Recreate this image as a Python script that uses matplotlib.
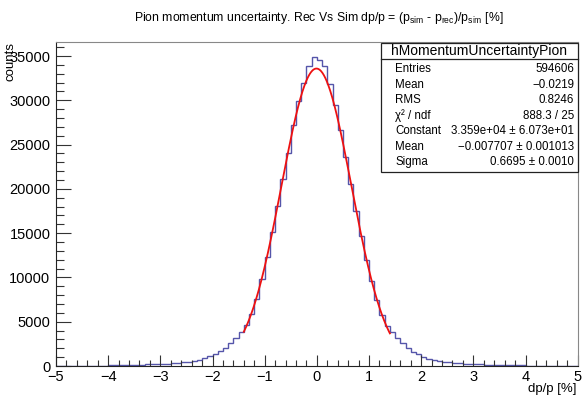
import numpy as np
import matplotlib
matplotlib.use("Agg")
import matplotlib.pyplot as plt
from matplotlib.ticker import MultipleLocator
from matplotlib.patches import Rectangle

plt.rcParams['font.family'] = ['Liberation Sans', 'DejaVu Sans']
plt.rcParams['mathtext.fontset'] = 'custom'
plt.rcParams['mathtext.rm'] = 'Liberation Sans'
plt.rcParams['mathtext.it'] = 'Liberation Sans:italic'

# histogram: 100 bins of 0.1 from -5 to 5
bin_edges = np.linspace(-5, 5, 101)
counts = [
    0, 0, 0, 0, 0, 0, 0, 25, 40, 55,                                     # -5.0 .. -4.0
    65, 75, 90, 100, 115, 130, 150, 170, 190, 220,                       # -4.0 .. -3.0
    250, 280, 320, 370, 430, 500, 600, 720, 870, 1080,                   # -3.0 .. -2.0
    1350, 1650, 2050, 2550, 3150, 3800, 4600, 5900, 7600, 9800,          # -2.0 .. -1.0
    12300, 15100, 18100, 21100, 24100, 27200, 29900, 32000, 33900, 34900,  # -1.0 .. 0.0
    34600, 33900, 31800, 29500, 26700, 23600, 20500, 17500, 14700, 12000,  # 0.0 .. 1.0
    9600, 7500, 5800, 4500, 3860, 3150, 2590, 2030, 1610, 1350,          # 1.0 .. 2.0
    1050, 820, 680, 560, 460, 400, 340, 300, 260, 230,                   # 2.0 .. 3.0
    200, 180, 160, 140, 120, 110, 90, 80, 70, 60,                        # 3.0 .. 4.0
    0, 0, 0, 0, 0, 0, 0, 0, 0, 0,                                        # 4.0 .. 5.0
]

# gaussian fit parameters from the stats box
fit_const = 3.359e4
fit_mean = -0.007707
fit_sigma = 0.6695
fit_range = (-1.4, 1.4)

stat_names = ["Entries", "Mean", "RMS", "χ² / ndf", "Constant", "Mean", "Sigma"]
stat_values = ["594606", "\u22120.0219", "0.8246", "888.3 / 25",
               "3.359e+04 ± 6.073e+01", "\u22120.007707 ± 0.001013", "0.6695 ± 0.0010"]

W, H = 586, 395
fig = plt.figure(figsize=(W / 100, H / 100), dpi=100)

def fx(x):
    return x / W

def fy(y):
    return 1 - y / H

ax = fig.add_axes([fx(56), fy(366), fx(577.7) - fx(56), fy(41.5) - fy(366)])

ax.stairs(counts, bin_edges, color='#5555aa', linewidth=1.0)

xf = np.linspace(fit_range[0], fit_range[1], 300)
yf = fit_const * np.exp(-0.5 * ((xf - fit_mean) / fit_sigma) ** 2)
ax.plot(xf, yf, color='#ee1111', linewidth=1.3)

ax.set_xlim(-5, 5)
ax.set_ylim(0, 1.05 * max(counts))

ax.xaxis.set_major_locator(MultipleLocator(1))
ax.xaxis.set_minor_locator(MultipleLocator(0.2))
ax.yaxis.set_major_locator(MultipleLocator(5000))
ax.yaxis.set_minor_locator(MultipleLocator(1000))
ax.tick_params(axis='both', which='both', direction='in', top=False, right=False,
               labelsize=10.5, color='#333333', width=0.8)
ax.tick_params(axis='x', which='major', length=8, pad=3)
ax.tick_params(axis='x', which='minor', length=4)
ax.tick_params(axis='y', which='major', length=11, pad=4)
ax.tick_params(axis='y', which='minor', length=5.5)

for side in ['top', 'right']:
    ax.spines[side].set_color('#888888')
for side in ['left', 'bottom']:
    ax.spines[side].set_color('#222222')

fig.text(fx(319), fy(18), r"Pion momentum uncertainty. Rec Vs Sim dp/p = (p$_{\rm sim}$ - p$_{\rm rec}$)/p$_{\rm sim}$ [%]",
         ha='center', va='center', fontsize=8.8)
fig.text(fx(577), fy(389), "dp/p [%]", ha='right', va='center', fontsize=9.5)
fig.text(fx(11), fy(42), "counts", rotation=90, ha='center', va='top', fontsize=9.5)

# stats box
bx0, bx1, by0, by1 = 381, 578, 43, 172
fig.patches.append(Rectangle((fx(bx0), fy(by1)), fx(bx1) - fx(bx0), fy(by0) - fy(by1),
                             transform=fig.transFigure, facecolor='white',
                             edgecolor='#222222', linewidth=0.9, zorder=5))
fig.lines.append(plt.Line2D([fx(bx0), fx(bx1)], [fy(59), fy(59)], transform=fig.transFigure,
                            color='#222222', linewidth=0.9, zorder=6))
fig.text(fx((bx0 + bx1) / 2), fy(51), "hMomentumUncertaintyPion", ha='center', va='center',
         fontsize=10, zorder=7)
row_y = [69, 85, 100, 116, 131, 147, 162]
for name, val, yy in zip(stat_names, stat_values, row_y):
    fig.text(fx(395), fy(yy), name, ha='left', va='center', fontsize=8.3, zorder=7)
    fig.text(fx(574), fy(yy), val, ha='right', va='center', fontsize=8.3, zorder=7)

fig.savefig("out.png", dpi=100)
